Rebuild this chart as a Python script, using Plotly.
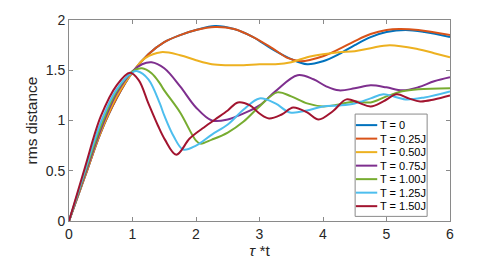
import plotly.graph_objects as go

# ---- data ----
names = ["T = 0", "T = 0.25J", "T = 0.50J", "T = 0.75J", "T = 1.00J", "T = 1.25J", "T = 1.50J"]

t_T000 = [0, 0.25, 0.5, 0.75, 1, 1.25, 1.5, 1.75, 2, 2.3, 2.6, 2.9, 3.2, 3.5, 3.75, 4, 4.25, 4.5, 4.75, 5, 5.3, 5.6, 6]
v_T000 = [0, 0.44, 0.88, 1.22, 1.48, 1.66, 1.78, 1.85, 1.90, 1.94, 1.91, 1.83, 1.71, 1.61, 1.56, 1.59, 1.66, 1.75, 1.83, 1.88, 1.90, 1.88, 1.83]

t_T025 = [0, 0.25, 0.5, 0.75, 1, 1.25, 1.5, 1.75, 2, 2.3, 2.6, 2.9, 3.2, 3.45, 3.65, 4, 4.25, 4.5, 4.75, 5, 5.2, 5.5, 6]
v_T025 = [0, 0.44, 0.88, 1.22, 1.48, 1.66, 1.78, 1.85, 1.90, 1.93, 1.91, 1.83, 1.72, 1.62, 1.59, 1.64, 1.71, 1.79, 1.86, 1.90, 1.91, 1.90, 1.85]

t_T050 = [0, 0.25, 0.5, 0.75, 1, 1.2, 1.45, 1.75, 2, 2.25, 2.5, 2.75, 3, 3.25, 3.5, 3.75, 4, 4.25, 4.5, 4.75, 5.05, 5.5, 5.75, 6]
v_T050 = [0, 0.45, 0.89, 1.24, 1.48, 1.62, 1.68, 1.65, 1.60, 1.56, 1.55, 1.55, 1.56, 1.56, 1.58, 1.63, 1.66, 1.68, 1.69, 1.72, 1.75, 1.71, 1.67, 1.63]

t_T075 = [0, 0.25, 0.5, 0.75, 1, 1.15, 1.3, 1.5, 1.75, 2, 2.25, 2.5, 2.75, 3, 3.25, 3.6, 3.85, 4.05, 4.25, 4.5, 4.75, 5, 5.25, 5.5, 5.75, 6]
v_T075 = [0, 0.46, 0.91, 1.27, 1.49, 1.56, 1.58, 1.52, 1.34, 1.13, 1.00, 1.01, 1.07, 1.15, 1.29, 1.45, 1.41, 1.34, 1.30, 1.32, 1.35, 1.33, 1.30, 1.33, 1.39, 1.43]

t_T100 = [0, 0.25, 0.5, 0.75, 1, 1.15, 1.3, 1.43, 1.5, 1.75, 2, 2.07, 2.25, 2.5, 2.75, 3, 3.28, 3.5, 3.75, 4, 4.25, 4.5, 4.75, 5, 5.25, 5.5, 6]
v_T100 = [0, 0.48, 0.94, 1.29, 1.49, 1.52, 1.47, 1.37, 1.30, 1.08, 0.80, 0.77, 0.81, 0.88, 0.99, 1.14, 1.28, 1.24, 1.17, 1.14, 1.16, 1.19, 1.18, 1.24, 1.29, 1.31, 1.32]

t_T125 = [0, 0.25, 0.5, 0.75, 1, 1.08, 1.25, 1.43, 1.5, 1.65, 1.8, 2.0, 2.25, 2.5, 2.75, 3.0, 3.25, 3.48, 3.75, 4, 4.25, 4.5, 4.75, 4.95, 5.3, 5.6, 6]
v_T125 = [0, 0.50, 0.98, 1.31, 1.48, 1.49, 1.41, 1.17, 1.05, 0.84, 0.71, 0.75, 0.86, 0.96, 1.11, 1.22, 1.17, 1.08, 1.10, 1.14, 1.15, 1.17, 1.22, 1.26, 1.21, 1.23, 1.29]

t_T150 = [0, 0.25, 0.5, 0.75, 0.96, 1.1, 1.25, 1.4, 1.51, 1.69, 1.9, 2.1, 2.3, 2.5, 2.66, 2.85, 3.0, 3.15, 3.35, 3.53, 3.75, 3.93, 4.15, 4.37, 4.55, 4.75, 4.95, 5.16, 5.35, 5.53, 5.75, 6]
v_T150 = [0, 0.53, 1.04, 1.35, 1.475, 1.40, 1.17, 0.95, 0.81, 0.66, 0.82, 0.92, 1.01, 1.10, 1.18, 1.15, 1.07, 1.02, 1.06, 1.13, 1.08, 1.01, 1.09, 1.21, 1.18, 1.14, 1.19, 1.26, 1.22, 1.19, 1.21, 1.25]

x_ticks = [0, 1, 2, 3, 4, 5, 6]
y_ticks = [0, 0.5, 1, 1.5, 2]

# ---- styles ----
colors = ["#0072BD", "#D95319", "#EDB120", "#7E2F8E", "#77AC30", "#4DBEEE", "#A2142F"]
series_t = [t_T000, t_T025, t_T050, t_T075, t_T100, t_T125, t_T150]
series_v = [v_T000, v_T025, v_T050, v_T075, v_T100, v_T125, v_T150]

axis_col = "#8a8a8a"
txt_col = "#262626"
font_fam = "Liberation Sans, Arial, Helvetica, sans-serif"

fig = go.Figure()
for name, tt, vv, c in zip(names, series_t, series_v, colors):
    fig.add_trace(go.Scatter(x=tt, y=vv, mode="lines", name=name, showlegend=False,
                             line=dict(color=c, width=2, shape="spline", smoothing=1.0)))

# ---- compact MATLAB-style legend box (paper coordinates) ----
leg_x0, leg_x1 = 0.751, 0.940
leg_y0, leg_y1 = 0.023, 0.532
row_top = 0.477          # centre of first row
row_step = 0.0672        # row spacing
sw_x0, sw_x1 = 0.753, 0.809
txt_x = 0.811
shapes = [dict(type="rect", xref="paper", yref="paper", x0=leg_x0, x1=leg_x1, y0=leg_y0, y1=leg_y1,
               line=dict(color=axis_col, width=1), fillcolor="white", layer="above")]
annotations = []
for i, (name, c) in enumerate(zip(names, colors)):
    yc = row_top - i * row_step
    shapes.append(dict(type="line", xref="paper", yref="paper", x0=sw_x0, x1=sw_x1, y0=yc, y1=yc,
                       line=dict(color=c, width=2), layer="above"))
    annotations.append(dict(xref="paper", yref="paper", x=txt_x, y=yc, text=name, showarrow=False,
                            xanchor="left", yanchor="middle",
                            font=dict(size=11, family=font_fam, color="black")))

fig.update_layout(
    width=487, height=255,
    margin=dict(l=61, r=45, t=12, b=42, autoexpand=False),
    paper_bgcolor="white", plot_bgcolor="white",
    font=dict(family=font_fam, color=txt_col, size=14),
    showlegend=False,
    shapes=shapes, annotations=annotations,
)
fig.update_xaxes(range=[0, 6], tickvals=x_ticks, ticks="inside", ticklen=4, tickcolor=axis_col,
                 showline=True, linecolor=axis_col, linewidth=1, mirror="ticks", automargin=True,
                 showgrid=False, zeroline=False, tickfont=dict(size=14),
                 title=dict(text="<i>\u03c4</i> *t", font=dict(size=15.5), standoff=2))
fig.update_yaxes(range=[0, 2], tickvals=y_ticks, ticks="inside", ticklen=4, tickcolor=axis_col,
                 showline=True, linecolor=axis_col, linewidth=1, mirror="ticks", automargin=True,
                 showgrid=False, zeroline=False, tickfont=dict(size=14),
                 title=dict(text="rms distance", font=dict(size=15.5), standoff=4))

fig.write_html("out.html")
